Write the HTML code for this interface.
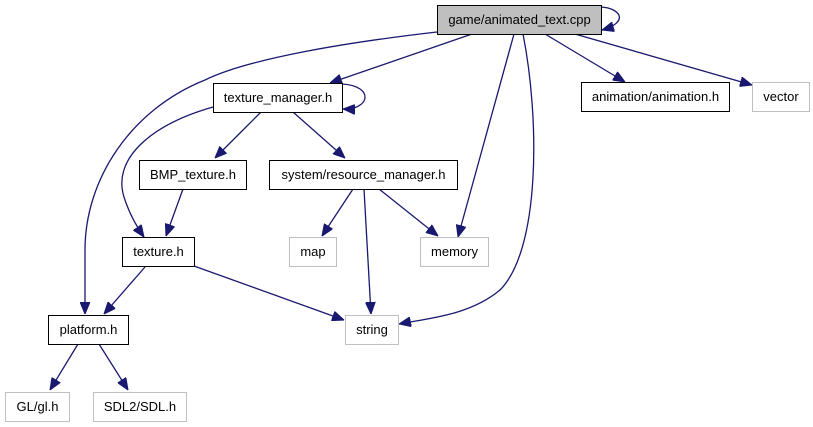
<!DOCTYPE html>
<html><head><style>
html,body{margin:0;padding:0;background:#fff;width:813px;height:427px;overflow:hidden}
text{font-family:"Liberation Sans",Helvetica,sans-serif;font-size:13px;fill:#000}
</style></head><body>
<svg width="813" height="427" viewBox="0 0 813 427" xmlns="http://www.w3.org/2000/svg">
<defs>
<marker id="a" viewBox="0 0 12 10" refX="12" refY="5" markerWidth="12" markerHeight="10" markerUnits="userSpaceOnUse" orient="auto">
<path d="M0,0 L12,5 L0,10 z" fill="#191970" stroke="#191970"/>
</marker>
</defs>
<g fill="none" stroke="#191970" stroke-width="1.3" marker-end="url(#a)">
<path d="M601,7 C620,8 630,22 602,30"/>
<path d="M437,32 C350,42 250,58 205,80 C130,110 85,180 85,250 L85,314"/>
<path d="M472,34 L330,83"/>
<path d="M514,34 L458,237"/>
<path d="M523,34 C540,120 540,250 500,290 C470,315 430,318 399,324"/>
<path d="M545,34 L625,82"/>
<path d="M575,34 L752,85"/>
<path d="M342,84 C375,86 370,110 343,109"/>
<path d="M213,107 C150,125 110,160 125,200 C130,215 137,227 144,237"/>
<path d="M261,112 L215,158"/>
<path d="M293,112 L345,158"/>
<path d="M183,189 L166,236"/>
<path d="M353,189 L322,236"/>
<path d="M364,189 L371,314"/>
<path d="M379,189 L438,236"/>
<path d="M145,267 L104,314"/>
<path d="M194,266 L344,320"/>
<path d="M78,344 L50,390"/>
<path d="M99,344 L128,390"/>
</g>
<g stroke-width="1">
<rect x="437.5" y="5.5" width="164" height="29" fill="#bfbfbf" stroke="#000"/>
<rect x="213.5" y="83.5" width="129" height="29" fill="#fff" stroke="#000"/>
<rect x="581.5" y="82.5" width="148" height="29" fill="#fff" stroke="#000"/>
<rect x="752.5" y="82.5" width="57" height="29" fill="#fff" stroke="#bfbfbf"/>
<rect x="139.5" y="160.5" width="107" height="29" fill="#fff" stroke="#000"/>
<rect x="269.5" y="160.5" width="188" height="29" fill="#fff" stroke="#000"/>
<rect x="122.5" y="237.5" width="72" height="29" fill="#fff" stroke="#000"/>
<rect x="289.5" y="237.5" width="47" height="29" fill="#fff" stroke="#bfbfbf"/>
<rect x="420.5" y="237.5" width="68" height="29" fill="#fff" stroke="#bfbfbf"/>
<rect x="48.5" y="315.5" width="80" height="29" fill="#fff" stroke="#000"/>
<rect x="345.5" y="315.5" width="53" height="29" fill="#fff" stroke="#bfbfbf"/>
<rect x="5.5" y="392.5" width="64" height="29" fill="#fff" stroke="#bfbfbf"/>
<rect x="93.5" y="392.5" width="93" height="29" fill="#fff" stroke="#bfbfbf"/>
</g>
<g text-anchor="middle">
<text x="519.5" y="24">game/animated_text.cpp</text>
<text x="278" y="102">texture_manager.h</text>
<text x="655.5" y="101">animation/animation.h</text>
<text x="781" y="101">vector</text>
<text x="193" y="179">BMP_texture.h</text>
<text x="363.5" y="179">system/resource_manager.h</text>
<text x="158.5" y="256">texture.h</text>
<text x="313" y="256">map</text>
<text x="454.5" y="256">memory</text>
<text x="88.5" y="334">platform.h</text>
<text x="372" y="334">string</text>
<text x="37.5" y="411">GL/gl.h</text>
<text x="140" y="411">SDL2/SDL.h</text>
</g>
</svg>
</body></html>
